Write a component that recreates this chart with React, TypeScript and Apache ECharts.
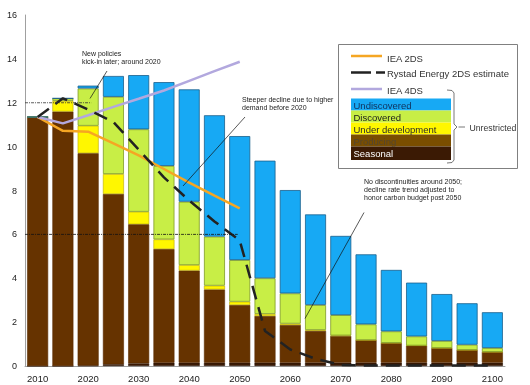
import React, { useEffect, useRef } from "react";
import * as echarts from "echarts";

const years = ["2010","2015","2020","2025","2030","2035","2040","2045","2050","2055","2060","2065","2070","2075","2080","2085","2090","2095","2100"];
const seasonal = [0, 0, 0.02, 0.08, 0.12, 0.15, 0.15, 0.15, 0.15, 0.15, 0.15, 0.15, 0.15, 0.15, 0.15, 0.15, 0.15, 0.15, 0.15];
const producing = [11.35, 11.6, 9.68, 7.76, 6.34, 5.18, 4.2, 3.34, 2.63, 2.13, 1.72, 1.45, 1.22, 1.03, 0.9, 0.78, 0.67, 0.58, 0.49];
const underDevelopment = [0, 0.48, 1.25, 0.91, 0.57, 0.44, 0.25, 0.17, 0.15, 0.09, 0.06, 0.04, 0.02, 0, 0, 0, 0, 0, 0];
const discovered = [0, 0.12, 1.7, 3.52, 3.76, 3.35, 2.89, 2.24, 1.9, 1.63, 1.38, 1.14, 0.93, 0.72, 0.53, 0.42, 0.32, 0.24, 0.18];
const undiscovered = [0, 0, 0.13, 0.95, 2.47, 3.82, 5.12, 5.53, 5.65, 5.36, 4.71, 4.13, 3.61, 3.19, 2.8, 2.45, 2.14, 1.89, 1.63];
const iea2ds = [11.35, 10.72, 10.68, 10.15, 9.6, 8.98, 8.36, 7.77, 7.19, null, null, null, null, null, null, null, null, null, null];
const iea4ds = [11.35, 11.06, 11.43, 11.81, 12.18, 12.56, 13.0, 13.44, 13.87, null, null, null, null, null, null, null, null, null, null];
const rystad = [11.35, 12.2, 11.69, 11.12, 9.86, 8.6, 7.54, 6.59, 5.72, 1.6, 0.75, 0.33, 0.05, 0.02, 0.02, 0.02, 0.02, 0.02, 0.02];
const yTicks = { min: 0, max: 16, interval: 2 };

const FONT = '"Liberation Sans", Arial, sans-serif';

const legendRows = [
  { name: "Undiscovered", fill: "#17A9F4", text: "#10305a" },
  { name: "Discovered", fill: "#C8EE46", text: "#1a1a1a" },
  { name: "Under development", fill: "#FFF700", text: "#2a2a2a" },
  { name: "Producing", fill: "#7A4E00", text: "#54452f" },
  { name: "Seasonal", fill: "#3B1A04", text: "#ffffff" },
];

export default function App() {
  const ref = useRef<HTMLDivElement>(null);
  useEffect(() => {
    if (!ref.current) return;
    const chart = echarts.init(ref.current, undefined, { renderer: "svg" });
    const barBase = { type: "bar", stack: "s", barWidth: 21, z: 2 } as any;
    chart.setOption({
      animation: false,
      grid: { left: 25, right: 25, top: 15, bottom: 19 },
      xAxis: {
        type: "category",
        data: years,
        axisLine: { lineStyle: { color: "#a0a0a0", width: 1 } },
        axisTick: { show: false },
        axisLabel: { interval: 1, color: "#222", fontSize: 9.5, fontFamily: FONT, margin: 7 },
      },
      yAxis: {
        type: "value",
        min: yTicks.min,
        max: yTicks.max,
        interval: yTicks.interval,
        splitLine: { show: false },
        axisLine: { show: true, lineStyle: { color: "#a0a0a0", width: 1 } },
        axisTick: { show: false },
        axisLabel: { color: "#222", fontSize: 9, fontFamily: FONT, margin: 8 },
      },
      series: [
        { ...barBase, name: "Seasonal", data: seasonal, itemStyle: { color: "#3B1A04", borderColor: "#2a1203", borderWidth: 0.6 } },
        { ...barBase, name: "Producing", data: producing, itemStyle: { color: "#663300", borderColor: "#5a2c00", borderWidth: 0.6 } },
        { ...barBase, name: "Under development", data: underDevelopment, itemStyle: { color: "#FFF700", borderColor: "#b8a800", borderWidth: 0.6 } },
        { ...barBase, name: "Discovered", data: discovered, itemStyle: { color: "#C8EE46", borderColor: "#7f9a25", borderWidth: 0.8 } },
        { ...barBase, name: "Undiscovered", data: undiscovered, itemStyle: { color: "#17A9F4", borderColor: "#1b5f8c", borderWidth: 0.8 } },
        { type: "line", name: "IEA 2DS", data: iea2ds, symbol: "none", z: 5, lineStyle: { color: "#F5A623", width: 2.5 } },
        { type: "line", name: "IEA 4DS", data: iea4ds, symbol: "none", z: 5, lineStyle: { color: "#B2A8DE", width: 2.5 } },
        { type: "line", name: "Rystad Energy 2DS estimate", data: rystad, symbol: "none", z: 6, lineStyle: { color: "#222", width: 2.5, type: [14, 8] } },
      ],
    });

    const gx = (cat: string) => chart.convertToPixel({ xAxisIndex: 0 }, cat) as number;
    const gy = (v: number) => chart.convertToPixel({ yAxisIndex: 0 }, v) as number;
    const left = gx(years[0]) - 12.6;
    const y12 = gy(12);
    const y6 = gy(6);

    const txt = (text: string, x: number, y: number, size = 7, fill = "#222", extra: any = {}) => ({
      type: "text",
      z: 20,
      style: { text, x, y, fill, font: `${size}px ${FONT}`, textAlign: "left", verticalAlign: "middle", lineHeight: 8, ...extra },
    });
    const ln = (x1: number, y1: number, x2: number, y2: number, style: any = {}) => ({
      type: "line",
      z: 20,
      shape: { x1, y1, x2, y2 },
      style: { stroke: "#111", lineWidth: 0.7, ...style },
    });

    const lx = 351;
    const rowTop = 98.5;
    const rowH = 12;
    const graphic: any[] = [
      ln(left, y12, gx("2020") + 3, y12, { stroke: "#333", lineWidth: 0.8, lineDash: [3, 1, 1, 1] }),
      ln(left, y6, gx("2050") - 2, y6, { stroke: "#111", lineWidth: 0.8, lineDash: [3, 1, 1, 1] }),
      txt("New policies\nkick-in later; around 2020", 82, 57),
      ln(107, 71, 90, 98.5),
      txt("Steeper decline due to higher\ndemand before 2020", 242, 103),
      ln(245, 117, 183, 186),
      txt("No discontinuities around 2050;\ndecline rate trend adjusted to\nhonor carbon budget post 2050", 364, 189.5),
      ln(364, 212.5, 305, 318.5),
      // legend
      { type: "rect", z: 18, shape: { x: 338.5, y: 44.5, width: 179, height: 124 }, style: { fill: "#fff", stroke: "#808080", lineWidth: 1 } },
      ln(lx, 56, 382, 56, { stroke: "#F5A623", lineWidth: 2.5 }),
      txt("IEA 2DS", 387, 58, 9.5, "#333"),
      ln(lx, 72.5, 385, 72.5, { stroke: "#222", lineWidth: 2.5, lineDash: [20, 5] }),
      txt("Rystad Energy 2DS estimate", 387, 73.5, 9.5, "#333"),
      ln(lx, 89, 382, 89, { stroke: "#B2A8DE", lineWidth: 2.5 }),
      txt("IEA 4DS", 387, 90.5, 9.5, "#333"),
    ];
    legendRows.forEach((r, i) => {
      const h = i === legendRows.length - 1 ? rowH + 1.5 : rowH;
      graphic.push({ type: "rect", z: 19, shape: { x: lx, y: rowTop + i * rowH, width: 100, height: h }, style: { fill: r.fill } });
      graphic.push(txt(r.name, 353.5, rowTop + i * rowH + h / 2 + 0.5, 9.5, r.text));
    });
    graphic.push({
      type: "polyline",
      z: 20,
      shape: { points: [[447, 90], [452, 90.5], [454, 93], [454, 124], [457, 127], [454, 130], [454, 160], [452, 162.5], [447, 163]] },
      style: { stroke: "#555", lineWidth: 0.8, fill: "none" },
    });
    graphic.push(ln(458.5, 127, 465, 127, { stroke: "#555", lineWidth: 0.8 }));
    graphic.push(txt("Unrestricted", 469.5, 127.5, 8.7, "#333"));

    chart.setOption({ graphic });
    return () => chart.dispose();
  }, []);
  return <div ref={ref} style={{ position: "fixed", left: 0, top: 0, width: 530, height: 385 }} />;
}
